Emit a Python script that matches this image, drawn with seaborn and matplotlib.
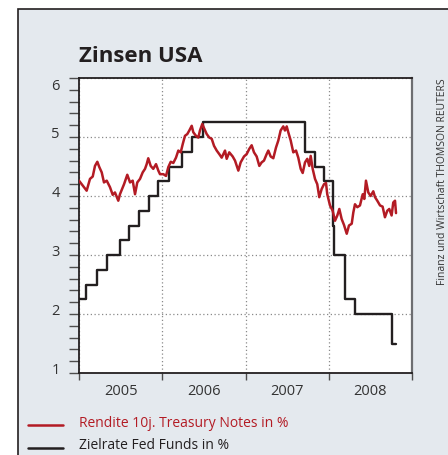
import matplotlib
matplotlib.use("Agg")
import matplotlib.pyplot as plt
from matplotlib.patches import Rectangle
from matplotlib.lines import Line2D
from matplotlib.ticker import FixedLocator, MultipleLocator, NullFormatter
import seaborn as sns
import pandas as pd

# ---------------- data ----------------
# Fed funds target rate (step changes), x in decimal years
fed_time = [2005.000, 2005.090, 2005.220, 2005.335, 2005.495, 2005.605, 2005.720,
            2005.835, 2005.950, 2006.083, 2006.236, 2006.356, 2006.490, 2007.715,
            2007.830, 2007.945, 2008.050, 2008.060, 2008.200, 2008.320, 2008.760,
            2008.810]
fed_rate = [2.25, 2.50, 2.75, 3.00, 3.25, 3.50, 3.75,
            4.00, 4.25, 4.50, 4.75, 5.00, 5.25, 4.75,
            4.50, 4.25, 3.50, 3.00, 2.25, 2.00, 1.50,
            1.50]

# 10y Treasury note yield, x in decimal years
ust_time = [2005.000, 2005.032, 2005.092, 2005.132, 2005.165, 2005.192, 2005.220, 2005.244,
            2005.273, 2005.300, 2005.333, 2005.372, 2005.405, 2005.432, 2005.472, 2005.492,
            2005.541, 2005.580, 2005.613, 2005.645, 2005.673, 2005.700, 2005.733, 2005.765,
            2005.793, 2005.813, 2005.832, 2005.861, 2005.892, 2005.925, 2005.953, 2005.973,
            2006.013, 2006.045, 2006.073, 2006.102, 2006.133, 2006.165, 2006.193, 2006.222,
            2006.246, 2006.273, 2006.301, 2006.325, 2006.354, 2006.373, 2006.405, 2006.433,
            2006.453, 2006.481, 2006.505, 2006.534, 2006.565, 2006.594, 2006.622, 2006.654,
            2006.685, 2006.714, 2006.754, 2006.774, 2006.805, 2006.846, 2006.874, 2006.914,
            2006.942, 2006.982, 2007.014, 2007.046, 2007.074, 2007.102, 2007.134, 2007.166,
            2007.194, 2007.222, 2007.254, 2007.274, 2007.302, 2007.334, 2007.366, 2007.394,
            2007.422, 2007.454, 2007.474, 2007.495, 2007.514, 2007.543, 2007.574, 2007.607,
            2007.634, 2007.663, 2007.687, 2007.715, 2007.742, 2007.766, 2007.783, 2007.807,
            2007.835, 2007.862, 2007.886, 2007.915, 2007.943, 2007.967, 2007.982, 2008.015,
            2008.047, 2008.075, 2008.103, 2008.127, 2008.155, 2008.183, 2008.216, 2008.243,
            2008.276, 2008.295, 2008.315, 2008.343, 2008.375, 2008.408, 2008.427, 2008.447,
            2008.475, 2008.503, 2008.535, 2008.556, 2008.583, 2008.616, 2008.647, 2008.675,
            2008.703, 2008.727, 2008.755, 2008.775, 2008.796, 2008.808]
ust_yield = [4.26, 4.20, 4.09, 4.29, 4.33, 4.51, 4.58, 4.49,
             4.40, 4.23, 4.26, 4.15, 4.02, 4.06, 3.92, 4.03,
             4.20, 4.36, 4.23, 4.26, 4.03, 4.23, 4.29, 4.40,
             4.46, 4.54, 4.64, 4.51, 4.46, 4.54, 4.43, 4.37,
             4.37, 4.34, 4.49, 4.58, 4.56, 4.65, 4.77, 4.74,
             4.88, 5.02, 5.05, 5.11, 5.19, 5.08, 5.02, 4.99,
             5.11, 5.22, 5.14, 5.05, 4.99, 4.97, 4.85, 4.77,
             4.71, 4.65, 4.77, 4.63, 4.74, 4.67, 4.60, 4.43,
             4.57, 4.67, 4.71, 4.80, 4.86, 4.74, 4.67, 4.51,
             4.57, 4.60, 4.71, 4.77, 4.67, 4.64, 4.82, 4.94,
             5.11, 5.18, 5.11, 5.18, 5.08, 4.94, 4.74, 4.77,
             4.65, 4.46, 4.39, 4.57, 4.63, 4.51, 4.68, 4.46,
             4.29, 4.20, 3.98, 4.12, 4.20, 4.22, 4.03, 3.84,
             3.75, 3.58, 3.67, 3.78, 3.61, 3.51, 3.36, 3.50,
             3.53, 3.72, 3.86, 3.81, 3.84, 4.03, 3.95, 4.26,
             4.06, 4.00, 4.08, 3.98, 3.92, 3.84, 3.82, 3.64,
             3.75, 3.78, 3.67, 3.89, 3.92, 3.71]

year_labels = ["2005", "2006", "2007", "2008"]
year_starts = [2005, 2006, 2007, 2008, 2009]
y_ticks = [1, 2, 3, 4, 5, 6]

title = "Zinsen USA"
label_ust = "Rendite 10j. Treasury Notes in %"
label_fed = "Zielrate Fed Funds in %"
source = "Finanz und Wirtschaft THOMSON REUTERS"

RED = "#b31b24"
BLACK = "#231f20"
BG = "#e4e9ee"

# ---------------- style ----------------
sns.set_style("ticks")
plt.rcParams["font.family"] = ["Open Sans", "DejaVu Sans"]

W, H, DPI = 448, 456, 100
fig = plt.figure(figsize=(W / DPI, H / DPI), dpi=DPI, facecolor="white")

# panel background with frame
fig.patches.append(Rectangle((18 / W, -0.05), 1.1, 1 - 10 / H + 0.05,
                             transform=fig.transFigure, facecolor=BG,
                             edgecolor=BLACK, linewidth=1.2, zorder=-10))

ax = fig.add_axes([79 / W, 1 - 374 / H, (412 - 79) / W, (374 - 79) / H])
ax.set_zorder(5)
ax.set_facecolor("white")

df_ust = pd.DataFrame({"t": ust_time, "v": ust_yield})
df_fed = pd.DataFrame({"t": fed_time, "v": fed_rate})

sns.lineplot(data=df_fed, x="t", y="v", ax=ax, color=BLACK, linewidth=1.7,
             drawstyle="steps-post", sort=False, zorder=3)
sns.lineplot(data=df_ust, x="t", y="v", ax=ax, color=RED, linewidth=1.8,
             sort=False, zorder=4)

ax.set_xlim(2005, 2009)
ax.set_ylim(1, 6)
ax.set_xlabel("")
ax.set_ylabel("")

# y axis
ax.yaxis.set_major_locator(FixedLocator(y_ticks))
ax.yaxis.set_minor_locator(MultipleLocator(0.2))
ax.set_yticklabels([str(v) for v in y_ticks])
ax.tick_params(axis="y", which="both", direction="out", length=7, width=1,
               color="#4d4d4d", pad=7, labelsize=10.5, labelcolor="#333333")
for lbl in ax.get_yticklabels():
    lbl.set_va("baseline")
ax.get_yticklabels()[-1].set_va("top")

# x axis: ticks at year boundaries, labels centred in each year
ax.xaxis.set_major_locator(FixedLocator(year_starts))
ax.xaxis.set_major_formatter(NullFormatter())
ax.xaxis.set_minor_locator(FixedLocator([y + 0.5 for y in year_starts[:-1]]))
ax.set_xticklabels(year_labels, minor=True)
ax.tick_params(axis="x", which="major", direction="out", length=5, width=1,
               color="#4d4d4d")
ax.tick_params(axis="x", which="minor", length=0, pad=7, labelsize=10.5,
               labelcolor="#333333")

ax.grid(True, which="major", linestyle=(0, (1, 2)), linewidth=0.9, color="#8a8a8a")

for side in ["left", "bottom", "top"]:
    ax.spines[side].set_color(BLACK)
    ax.spines[side].set_linewidth(1.3)
ax.spines["right"].set_color("#6d6e71")
ax.spines["right"].set_linewidth(1.6)

# title
fig.text(79 / W, 1 - 62 / H, title, fontsize=16, fontweight="bold",
         color=BLACK, ha="left", va="baseline")

# source (vertical)
fig.text(442 / W, 1 - 78 / H, source, rotation=90, fontsize=7.5, color="#333333",
         ha="center", va="top")

# legend
fig.add_artist(Line2D([28 / W, 63 / W], [1 - 426 / H, 1 - 426 / H], color=RED,
                      linewidth=1.8, transform=fig.transFigure))
fig.add_artist(Line2D([28 / W, 63 / W], [1 - 449 / H, 1 - 449 / H], color=BLACK,
                      linewidth=1.8, transform=fig.transFigure))
fig.text(79 / W, 1 - 427 / H, label_ust, fontsize=10, color=RED, ha="left", va="baseline")
fig.text(79 / W, 1 - 449 / H, label_fed, fontsize=10, color=BLACK, ha="left", va="baseline")

fig.savefig("out.png", dpi=DPI, facecolor="white")
